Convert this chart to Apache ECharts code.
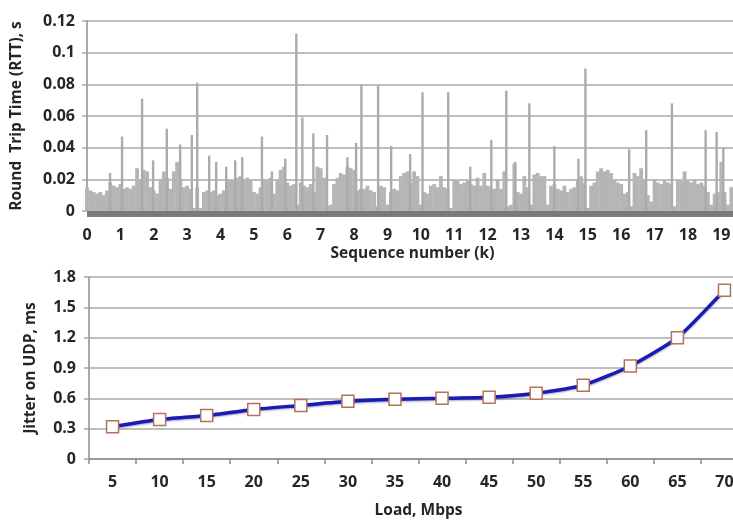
<!DOCTYPE html>
<html>
<head>
<meta charset="utf-8">
<script src="https://cdn.jsdelivr.net/npm/echarts@6/dist/echarts.min.js"></script>
<style>
html,body{margin:0;padding:0;background:#fff;overflow:hidden;}
#chart{width:733px;height:521px;}
</style>
</head>
<body>
<div id="chart"></div>
<script>
// ---- Top panel: RTT (s) vs sequence number (k) ----
// background RTT level, one value per 0.1k starting at 0
const rttStepK = 0.1;
const rttBase = [
0.015,0.013,0.012,0.011,0.012,0.010,0.013,0.018,0.016,0.015,
0.017,0.014,0.015,0.014,0.016,0.027,0.020,0.026,0.025,0.015,
0.013,0.011,0.020,0.025,0.021,0.014,0.025,0.031,0.020,0.015,
0.016,0.014,0.002,0.015,0.002,0.012,0.013,0.012,0.013,0.010,
0.011,0.013,0.019,0.020,0.019,0.021,0.022,0.020,0.021,0.020,
0.012,0.011,0.015,0.020,0.019,0.021,0.011,0.020,0.026,0.028,
0.018,0.016,0.017,0.004,0.018,0.016,0.015,0.017,0.012,0.028,
0.027,0.021,0.003,0.004,0.017,0.021,0.024,0.023,0.028,0.027,
0.026,0.013,0.014,0.014,0.016,0.013,0.012,0.003,0.016,0.015,
0.004,0.012,0.014,0.013,0.022,0.024,0.025,0.018,0.025,0.022,
0.004,0.012,0.011,0.016,0.017,0.015,0.022,0.015,0.014,0.002,
0.020,0.019,0.017,0.018,0.019,0.017,0.016,0.021,0.016,0.024,
0.016,0.015,0.014,0.020,0.014,0.025,0.003,0.004,0.030,0.012,
0.011,0.022,0.015,0.004,0.023,0.024,0.022,0.022,0.004,0.016,
0.017,0.014,0.013,0.016,0.012,0.014,0.015,0.020,0.022,0.018,
0.002,0.016,0.018,0.025,0.027,0.025,0.026,0.024,0.020,0.018,
0.017,0.011,0.012,0.003,0.024,0.022,0.027,0.020,0.010,0.006,
0.020,0.018,0.017,0.019,0.018,0.017,0.003,0.020,0.019,0.025,
0.019,0.018,0.020,0.017,0.018,0.016,0.012,0.004,0.011,0.012,
0.031,0.012,0.004,0.015
];
// isolated RTT spikes: position (k) and value (s)
const spikeSeq = [0.69,1.05,1.65,1.98,2.39,2.79,3.14,3.30,3.66,3.87,4.17,4.44,4.65,
  5.24,5.54,5.94,6.27,6.45,6.78,7.19,7.80,8.06,8.22,8.72,9.11,9.68,10.05,10.82,11.48,
  12.11,12.56,12.83,13.25,14.00,14.72,14.93,16.24,16.75,17.52,18.53,18.86,19.06];
const spikeRtt = [0.024,0.047,0.071,0.032,0.052,0.042,0.048,0.081,0.035,0.031,0.028,0.032,0.034,
  0.047,0.025,0.033,0.112,0.059,0.049,0.048,0.034,0.043,0.080,0.079,0.041,0.036,0.075,0.075,0.028,
  0.045,0.076,0.031,0.068,0.041,0.033,0.090,0.039,0.051,0.068,0.051,0.050,0.040];
const rttTicks = [0,0.02,0.04,0.06,0.08,0.1,0.12];

// ---- Bottom panel: jitter vs load ----
const loadMbps = ['5','10','15','20','25','30','35','40','45','50','55','60','65','70'];
const jitterMs = [0.32,0.39,0.43,0.49,0.53,0.57,0.59,0.60,0.61,0.65,0.73,0.92,1.20,1.67];
const jitterTicks = [0,0.3,0.6,0.9,1.2,1.5,1.8];

const baseData = rttBase.map((v,i)=>[+(i*rttStepK).toFixed(2), v]);
const spikeData = spikeSeq.map((s,i)=>[s, spikeRtt[i]]);

const FONT = 'Open Sans';
const labelStyle = {fontFamily:FONT, fontWeight:'bold', fontSize:16, color:'#262626'};
const nameStyle = {fontFamily:FONT, fontWeight:'bold', fontSize:15.5, color:'#262626'};
const gridLine = {show:true, lineStyle:{color:'#a8a8a8', width:1.5}};
const axisGray = {show:true, lineStyle:{color:'#8c8c8c', width:1.5}};

const chart = echarts.init(document.getElementById('chart'), null, {renderer:'canvas'});
chart.setOption({
  animation:false,
  backgroundColor:'#fff',
  grid:[
    {left:87, top:21, height:190, width:651, outerBoundsMode:'none', containLabel:false},
    {left:89, top:277, height:182, width:659, outerBoundsMode:'none', containLabel:false}
  ],
  xAxis:[
    {type:'value', gridIndex:0, min:0, max:19.5, interval:1, offset:2,
     axisLine:{show:true, onZero:false, lineStyle:{color:'#7a7a7a', width:7, cap:'butt'}},
     axisTick:{show:false}, splitLine:{show:false},
     axisLabel:Object.assign({margin:14, formatter:v=>Number.isInteger(v)?String(v):''}, labelStyle),
     name:'Sequence number (k)', nameLocation:'middle', nameGap:33, nameTextStyle:nameStyle},
    {type:'value', gridIndex:0, min:0, max:19.5, show:false},
    {type:'category', gridIndex:1, data:loadMbps, boundaryGap:true,
     axisLine:axisGray, axisTick:{show:true, length:5, lineStyle:{color:'#8c8c8c', width:1.5}},
     axisLabel:Object.assign({margin:15}, labelStyle),
     name:'Load, Mbps', nameLocation:'middle', nameGap:44, nameTextStyle:nameStyle}
  ],
  yAxis:[
    {type:'value', gridIndex:0, min:rttTicks[0], max:rttTicks[rttTicks.length-1], interval:0.02,
     axisLine:axisGray, axisTick:{show:true, length:5, lineStyle:{color:'#a8a8a8', width:1.5}},
     splitLine:gridLine, axisLabel:Object.assign({margin:12}, labelStyle),
     name:'Round  Trip Time (RTT), s', nameLocation:'middle', nameGap:62, nameTextStyle:nameStyle},
    {type:'value', gridIndex:1, min:jitterTicks[0], max:jitterTicks[jitterTicks.length-1], interval:0.3,
     axisLine:axisGray, axisTick:{show:true, length:5, lineStyle:{color:'#a8a8a8', width:1.5}},
     splitLine:gridLine, axisLabel:Object.assign({margin:13}, labelStyle),
     name:'Jitter on UDP, ms', nameLocation:'middle', nameGap:50, nameTextStyle:nameStyle}
  ],
  series:[
    {type:'bar', xAxisIndex:0, yAxisIndex:0, data:baseData, barWidth:3.8,
     itemStyle:{color:'#b5b5b5'}, silent:true},
    {type:'bar', xAxisIndex:1, yAxisIndex:0, data:spikeData, barWidth:2.4,
     itemStyle:{color:'#ababab'}, silent:true},
    {type:'line', xAxisIndex:2, yAxisIndex:1, data:jitterMs, smooth:0.2,
     lineStyle:{color:'#1a1ab4', width:3.5, shadowColor:'rgba(0,0,80,0.35)', shadowBlur:2, shadowOffsetY:1},
     symbol:'rect', symbolSize:12,
     itemStyle:{color:'#ffffff', borderColor:'#b3735a', borderWidth:1.5}}
  ]
});
</script>
</body>
</html>
